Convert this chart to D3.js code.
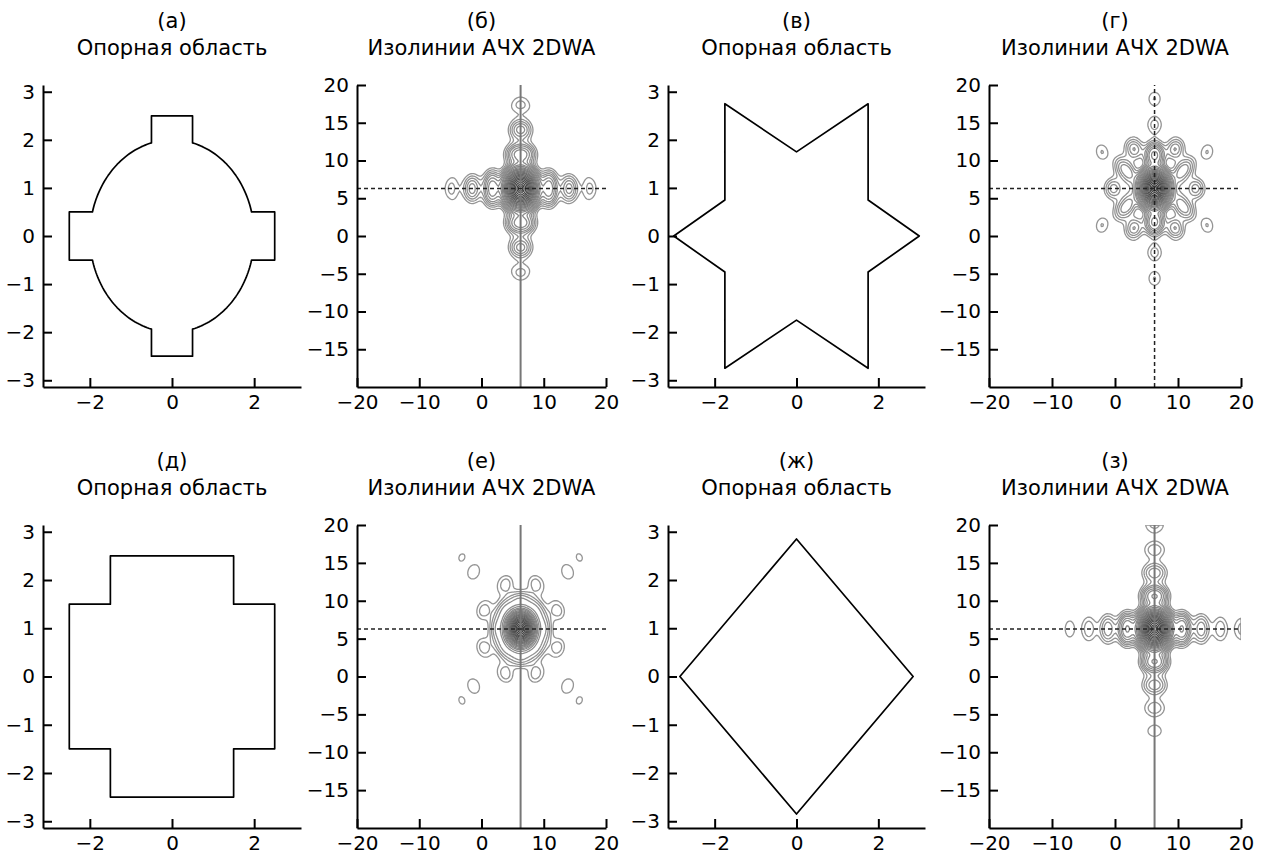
<!DOCTYPE html>
<html>
<head>
<meta charset="utf-8">
<script src="https://cdn.jsdelivr.net/npm/d3@7"></script>
<style>
  body { margin: 0; background: #fff; }
  svg { display: block; }
  svg text { font-family: "DejaVu Sans", sans-serif; fill: #000; }
  text.title { font-size: 21px; }
  .tick text { font-size: 20px; }
</style>
</head>
<body>
<svg id="fig" width="1267" height="859"></svg>
<script>
// panel captions
const letters = ["а", "б", "в", "г", "д", "е", "ж", "з"];
const titleShape = "Опорная область";
const titleResp = "Изолинии АЧХ 2DWA";

// support regions
const circleR = 2.0, tabHalf = 0.5, tabReach = 2.5;
const starPts = [[3, 0], [1.75, 0.75], [1.75, 2.75], [0, 1.75], [-1.75, 2.75], [-1.75, 0.75],
                 [-3, 0], [-1.75, -0.75], [-1.75, -2.75], [0, -1.75], [1.75, -2.75], [1.75, -0.75]];
const crossPts = [[2.5, 1.5], [1.5, 1.5], [1.5, 2.5], [-1.5, 2.5], [-1.5, 1.5], [-2.5, 1.5],
                  [-2.5, -1.5], [-1.5, -1.5], [-1.5, -2.5], [1.5, -2.5], [1.5, -1.5], [2.5, -1.5]];
const diamondPts = [[2.85, 0], [0, 2.85], [-2.85, 0], [0, -2.85]];

// response panels
const centerFreq = 6.28;
const respRotation = [45, 90, 45, 45];
const freqScale = 0.52;
const blurSigma = 0.7;
const vertDashed = [false, true, false, false];
const contourLevels = [0.05, 0.065, 0.08, 0.095, 0.11, 0.13, 0.15, 0.18, 0.21, 0.25, 0.29, 0.33, 0.38,
                       0.43, 0.48, 0.54, 0.6, 0.66, 0.72, 0.78, 0.84, 0.9, 0.95, 0.98];

// ticks
const shapeTicksX = [-2, 0, 2];
const shapeTicksY = [-3, -2, -1, 0, 1, 2, 3];
const respTicksX = [-20, -10, 0, 10, 20];
const respTicksY = [-15, -10, -5, 0, 5, 10, 15, 20];
const shapeDomain = [-3.14, 3.14];
const respDomain = [-20, 20];

// layout (pixels)
const cols = [[43, 301], [357, 606], [668, 925], [989, 1241]];
const rows = [[85, 387], [525, 828]];

function buildTabCircle() {
  const pts = [];
  const base = Math.sqrt(circleR * circleR - tabHalf * tabHalf);
  const da = Math.asin(tabHalf / circleR);
  for (let k = 0; k < 4; k++) {
    const a = k * Math.PI / 2;
    const d = [Math.cos(a), Math.sin(a)], n = [-Math.sin(a), Math.cos(a)];
    pts.push([base * d[0] - tabHalf * n[0], base * d[1] - tabHalf * n[1]]);
    pts.push([tabReach * d[0] - tabHalf * n[0], tabReach * d[1] - tabHalf * n[1]]);
    pts.push([tabReach * d[0] + tabHalf * n[0], tabReach * d[1] + tabHalf * n[1]]);
    pts.push([base * d[0] + tabHalf * n[0], base * d[1] + tabHalf * n[1]]);
    const a0 = a + da, a1 = a + Math.PI / 2 - da;
    for (let t = 1; t < 40; t++) {
      const b = a0 + (a1 - a0) * t / 40;
      pts.push([circleR * Math.cos(b), circleR * Math.sin(b)]);
    }
  }
  return pts;
}

const shapes = [buildTabCircle(), starPts, crossPts, diamondPts];

// smoothed magnitude of the 2D Fourier transform of the support region
function responseGrid(poly, rotDeg, n) {
  const N = 128, L = 3.3, dx = 2 * L / N;
  const th = rotDeg * Math.PI / 180, ct = Math.cos(th), st = Math.sin(th);
  const xs = d3.range(N).map(i => -L + (i + 0.5) * dx);
  const mask = [];
  let count = 0;
  for (let i = 0; i < N; i++) {
    const row = [];
    for (let j = 0; j < N; j++) {
      const x = xs[i], y = xs[j];
      if (d3.polygonContains(poly, [ct * x + st * y, -st * x + ct * y])) { row.push(j); count++; }
    }
    mask.push(row);
  }
  const step = (respDomain[1] - respDomain[0]) / n;
  const f = d3.range(n).map(k => (respDomain[0] + (k + 0.5) * step - centerFreq) * freqScale);
  const cosT = f.map(w => xs.map(x => Math.cos(w * x)));
  const sinT = f.map(w => xs.map(x => Math.sin(w * x)));
  const gRe = [], gIm = [];
  for (let i = 0; i < N; i++) {
    const re = new Float64Array(n), im = new Float64Array(n);
    const js = mask[i];
    if (js.length) {
      for (let k = 0; k < n; k++) {
        let sr = 0, si = 0;
        const c = cosT[k], s = sinT[k];
        for (const j of js) { sr += c[j]; si -= s[j]; }
        re[k] = sr; im[k] = si;
      }
    }
    gRe.push(re); gIm.push(im);
  }
  const values = new Float64Array(n * n);
  for (let a = 0; a < n; a++) {
    const c = cosT[a], s = sinT[a];
    for (let k = 0; k < n; k++) {
      let sr = 0, si = 0;
      for (let i = 0; i < N; i++) {
        if (!mask[i].length) continue;
        const gr = gRe[i][k], gi = gIm[i][k];
        sr += c[i] * gr + s[i] * gi;
        si += c[i] * gi - s[i] * gr;
      }
      values[k * n + a] = Math.hypot(sr, si) / count;
    }
  }
  // separable gaussian smoothing
  const sg = blurSigma / step, rad = Math.ceil(sg * 3);
  const ker = d3.range(-rad, rad + 1).map(t => Math.exp(-t * t / (2 * sg * sg)));
  const ks = d3.sum(ker);
  const tmp = new Float64Array(n * n);
  for (let k = 0; k < n; k++) for (let a = 0; a < n; a++) {
    let acc = 0;
    for (let t = -rad; t <= rad; t++) { const q = Math.min(n - 1, Math.max(0, a + t)); acc += ker[t + rad] * values[k * n + q]; }
    tmp[k * n + a] = acc / ks;
  }
  const out = new Float64Array(n * n);
  for (let k = 0; k < n; k++) for (let a = 0; a < n; a++) {
    let acc = 0;
    for (let t = -rad; t <= rad; t++) { const q = Math.min(n - 1, Math.max(0, k + t)); acc += ker[t + rad] * tmp[q * n + a]; }
    out[k * n + a] = acc / ks;
  }
  const mx = d3.max(out);
  for (let i = 0; i < out.length; i++) out[i] /= mx;
  return out;
}

const svg = d3.select("#fig");
const defs = svg.append("defs");
const isoColor = d3.scaleLinear().domain([0, 1]).range(["#9a9a9a", "#3a3a3a"]);

function drawAxes(g, x, y, ticksX, ticksY) {
  const ax = g.append("g").attr("transform", `translate(0,${y.range()[0]})`)
    .call(d3.axisBottom(x).tickValues(ticksX).tickFormat(d3.format("d"))
      .tickSizeInner(-9).tickSizeOuter(0).tickPadding(8));
  const ay = g.append("g").attr("transform", `translate(${x.range()[0]},0)`)
    .call(d3.axisLeft(y).tickValues(ticksY).tickFormat(d3.format("d"))
      .tickSizeInner(-9).tickSizeOuter(0).tickPadding(8));
  [ax, ay].forEach(a => {
    a.attr("font-family", null).attr("font-size", null);
    a.selectAll("path, line").attr("stroke", "#000").attr("stroke-width", 2);
  });
}

for (let r = 0; r < 2; r++) {
  for (let c = 0; c < 4; c++) {
    const idx = r * 4 + c;
    const [x0, x1] = cols[c], [y0, y1] = rows[r];
    const g = svg.append("g");
    const cx = (x0 + x1) / 2;
    g.append("text").attr("class", "title").attr("x", cx).attr("y", y0 - 57)
      .attr("text-anchor", "middle").text(`(${letters[idx]})`);
    g.append("text").attr("class", "title").attr("x", cx).attr("y", y0 - 30)
      .attr("text-anchor", "middle").text(c % 2 ? titleResp : titleShape);

    const s = r * 2 + Math.floor(c / 2);
    if (c % 2 === 0) {
      const x = d3.scaleLinear().domain(shapeDomain).range([x0, x1]);
      const y = d3.scaleLinear().domain(shapeDomain).range([y1, y0]);
      g.append("path")
        .attr("d", d3.line().x(d => x(d[0])).y(d => y(d[1])).curve(d3.curveLinearClosed)(shapes[s]))
        .attr("fill", "none").attr("stroke", "#000").attr("stroke-width", 1.7)
        .attr("stroke-linejoin", "round");
      drawAxes(g, x, y, shapeTicksX, shapeTicksY);
    } else {
      const x = d3.scaleLinear().domain(respDomain).range([x0, x1]);
      const y = d3.scaleLinear().domain(respDomain).range([y1, y0]);
      const n = 200;
      const values = responseGrid(shapes[s], respRotation[s], n);
      const contours = d3.contours().size([n, n]).thresholds(contourLevels)(values);
      const step = (respDomain[1] - respDomain[0]) / n;
      const proj = d3.geoTransform({
        point(px, py) { this.stream.point(x(respDomain[0] + px * step), y(respDomain[0] + py * step)); }
      });
      const clipId = "clip" + idx;
      defs.append("clipPath").attr("id", clipId).append("rect")
        .attr("x", x0).attr("y", y0).attr("width", x1 - x0).attr("height", y1 - y0);
      const cg = g.append("g").attr("clip-path", `url(#${clipId})`);
      cg.selectAll("path.iso").data(contours).join("path").attr("class", "iso")
        .attr("d", d3.geoPath(proj)).attr("fill", "none")
        .attr("stroke", d => isoColor(d.value)).attr("stroke-width", 1.3);
      cg.append("line")
        .attr("x1", x(centerFreq)).attr("x2", x(centerFreq))
        .attr("y1", y(respDomain[0])).attr("y2", y(respDomain[1]))
        .attr("stroke", vertDashed[s] ? "#222" : "#777").attr("stroke-width", vertDashed[s] ? 1.5 : 2)
        .attr("stroke-dasharray", vertDashed[s] ? "4,3" : null);
      g.append("line")
        .attr("x1", x(respDomain[0])).attr("x2", x(respDomain[1]))
        .attr("y1", y(centerFreq)).attr("y2", y(centerFreq))
        .attr("stroke", "#222").attr("stroke-width", 1.5).attr("stroke-dasharray", "4,3");
      drawAxes(g, x, y, respTicksX, respTicksY);
    }
  }
}
</script>
</body>
</html>
